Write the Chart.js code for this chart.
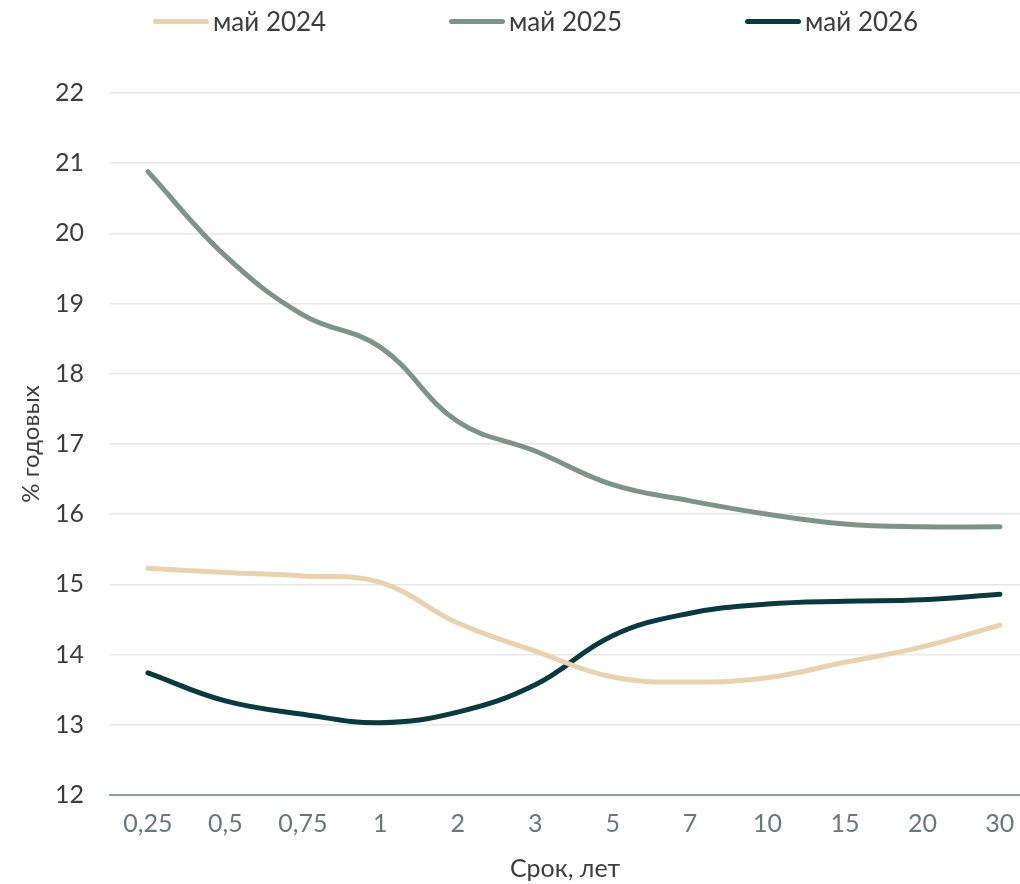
<!DOCTYPE html>
<html>
<head>
<meta charset="utf-8">
<script src="https://cdn.jsdelivr.net/npm/chart.js@4/dist/chart.umd.min.js"></script>
<style>
    html, body { margin: 0; padding: 0; background: #fff; }
    .wrap { position: relative; width: 1020px; height: 884px; }
    .legend { position: absolute; left: 153px; top: 5px; display: flex; font-family: Lato, sans-serif; font-size: 26px; color: #3d3d3d; }
    .legend-item { display: flex; align-items: center; gap: 4px; width: 296px; }
    .legend-line { width: 56px; height: 5px; border-radius: 3px; }
</style>
</head>
<body>
<div class="wrap">
    <canvas id="curveChart" width="1020" height="884"></canvas>
    <div class="legend" id="legend"></div>
</div>
<script>
const terms = ['0,25', '0,5', '0,75', '1', '2', '3', '5', '7', '10', '15', '20', '30'];
const seriesNames = ['май 2024', 'май 2025', 'май 2026'];
const may2024 = [15.23, 15.17, 15.12, 15.03, 14.45, 14.05, 13.68, 13.61, 13.67, 13.89, 14.11, 14.42];
const may2025 = [20.88, 19.68, 18.84, 18.38, 17.32, 16.9, 16.42, 16.19, 16.0, 15.86, 15.82, 15.82];
const may2026 = [13.74, 13.34, 13.15, 13.03, 13.18, 13.57, 14.27, 14.59, 14.72, 14.76, 14.78, 14.86];
const yTicks = [12, 13, 14, 15, 16, 17, 18, 19, 20, 21, 22];
const colors = ['#e9d2b0', '#7e9488', '#0a3a3e'];

const toPoints = arr => arr.map((v, i) => ({ x: i, y: v }));

const datasets = [may2024, may2025, may2026].map((arr, i) => ({
    label: seriesNames[i],
    data: toPoints(arr),
    borderColor: colors[i],
    backgroundColor: colors[i],
    borderWidth: 5,
    borderCapStyle: 'round',
    borderJoinStyle: 'round',
    pointRadius: 0,
    tension: 0.4,
    fill: false
}));

const legendEl = document.getElementById('legend');
datasets.forEach(ds => {
    const item = document.createElement('div');
    item.className = 'legend-item';
    item.innerHTML = `<span class="legend-line" style="background:${ds.borderColor}"></span><span>${ds.label}</span>`;
    legendEl.appendChild(item);
});

new Chart(document.getElementById('curveChart'), {
    type: 'line',
    data: { datasets: datasets },
    options: {
        responsive: false,
        devicePixelRatio: 1,
        animation: false,
        layout: { padding: { top: 93, right: 0, bottom: 0, left: 0 } },
        plugins: {
            legend: { display: false },
            tooltip: { enabled: false }
        },
        scales: {
            x: {
                type: 'linear',
                min: -0.49,
                max: 11.26,
                grid: { display: false, drawTicks: false },
                border: { display: true, color: '#8fa098', width: 2 },
                afterBuildTicks: scale => {
                    scale.ticks = terms.map((t, i) => ({ value: i }));
                },
                afterFit: scale => {
                    scale.height = 89;
                    scale.paddingLeft = 0;
                    scale.paddingRight = 0;
                },
                ticks: {
                    autoSkip: false,
                    maxRotation: 0,
                    padding: 14,
                    color: '#667877',
                    font: { family: 'Lato', size: 25 },
                    callback: v => terms[v]
                },
                title: {
                    display: true,
                    text: 'Срок, лет',
                    color: '#3d3d3d',
                    font: { family: 'Lato', size: 25 },
                    padding: { top: 0, bottom: 0 }
                }
            },
            y: {
                min: 12,
                max: 22,
                afterBuildTicks: scale => {
                    scale.ticks = yTicks.map(v => ({ value: v }));
                },
                afterFit: scale => {
                    scale.width = 110;
                },
                grid: { color: '#e6e8e8', lineWidth: 1.5, drawTicks: false },
                border: { display: false },
                ticks: {
                    padding: 26,
                    color: '#3d3d3d',
                    font: { family: 'Lato', size: 25 }
                },
                title: {
                    display: true,
                    text: '% годовых',
                    color: '#3d3d3d',
                    font: { family: 'Lato', size: 24 },
                    padding: { top: 17, bottom: 0 }
                }
            }
        }
    }
});
</script>
</body>
</html>
